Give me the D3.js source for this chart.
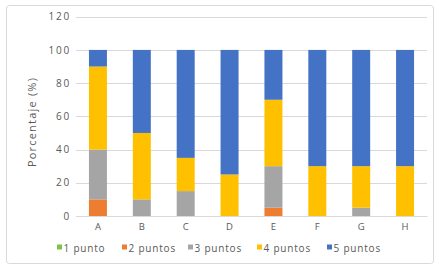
<!DOCTYPE html>
<html><head><meta charset="utf-8">
<script src="https://cdn.jsdelivr.net/npm/d3@7"></script>
<style>body{margin:0;background:#fff}text{font-family:"Open Sans",sans-serif;fill:#595959}</style>
</head><body><svg id="c" width="439" height="267"></svg>
<script>
const categories = ["A","B","C","D","E","F","G","H"];
const seriesNames = ["1 punto","2 puntos","3 puntos","4 puntos","5 puntos"];
const colors = ["#7dc243","#ed7d31","#a5a5a5","#ffc000","#4472c4"];
const punto1 = [0,0,0,0,0,0,0,0];
const puntos2 = [10,0,0,0,5,0,0,0];
const puntos3 = [30,10,15,0,25,0,5,0];
const puntos4 = [50,40,20,25,40,30,25,30];
const puntos5 = [10,50,65,75,30,70,70,70];
const yTicks = [0,20,40,60,80,100,120];

const svg = d3.select("#c");
svg.append("rect").attr("x",6.5).attr("y",5.5).attr("width",427).attr("height",258)
  .attr("rx",3).attr("fill","#fff").attr("stroke","#d9d9d9");

const x = d3.scaleBand().domain(categories).range([76,427]).paddingInner(0.59).paddingOuter(0.295);
const y = d3.scaleLinear().domain([0,120]).range([216,16.7]);

const g = svg.append("g");
g.selectAll("line.grid").data(yTicks).join("line")
  .attr("x1",76).attr("x2",427).attr("y1",d=>Math.round(y(d))+0.5).attr("y2",d=>Math.round(y(d))+0.5)
  .attr("stroke","#d9d9d9").attr("stroke-width",1);

const yAxis = svg.append("g").attr("transform","translate(76,0)")
  .call(d3.axisLeft(y).tickValues(yTicks).tickSize(0).tickPadding(5));
yAxis.select(".domain").remove();
yAxis.selectAll("text").attr("font-size",10).attr("letter-spacing",1.8).style("font-family","'Open Sans',sans-serif").attr("fill","#595959");

const rows = categories.map((c,i)=>({cat:c,"1 punto":punto1[i],"2 puntos":puntos2[i],"3 puntos":puntos3[i],"4 puntos":puntos4[i],"5 puntos":puntos5[i]}));
const stacked = d3.stack().keys(seriesNames)(rows);
svg.selectAll("g.s").data(stacked).join("g").attr("fill",(d,i)=>colors[i])
  .selectAll("rect").data(d=>d).join("rect")
  .attr("x",d=>x(d.data.cat)).attr("width",x.bandwidth())
  .attr("y",d=>y(d[1])).attr("height",d=>y(d[0])-y(d[1]));

const xAxis = svg.append("g").attr("transform","translate(0,216)")
  .call(d3.axisBottom(x).tickSize(0).tickPadding(7));
xAxis.select(".domain").attr("stroke","#d9d9d9");
xAxis.selectAll("text").attr("font-size",9.5).style("font-family","'Open Sans',sans-serif").attr("fill","#595959");

svg.append("text").attr("transform","translate(36,122) rotate(-90)").attr("text-anchor","middle")
  .attr("font-size",11).attr("letter-spacing",1.2).text("Porcentaje (%)");

const legendX = [57,122,188,257,327];
const lg = svg.append("g");
seriesNames.forEach((n,i)=>{
  lg.append("rect").attr("x",legendX[i]).attr("y",244.5).attr("width",5).attr("height",5).attr("fill",colors[i]);
  lg.append("text").attr("x",legendX[i]+6.5).attr("y",251.5).attr("font-size",10).attr("letter-spacing",0.8).text(n);
});
</script></body></html>
